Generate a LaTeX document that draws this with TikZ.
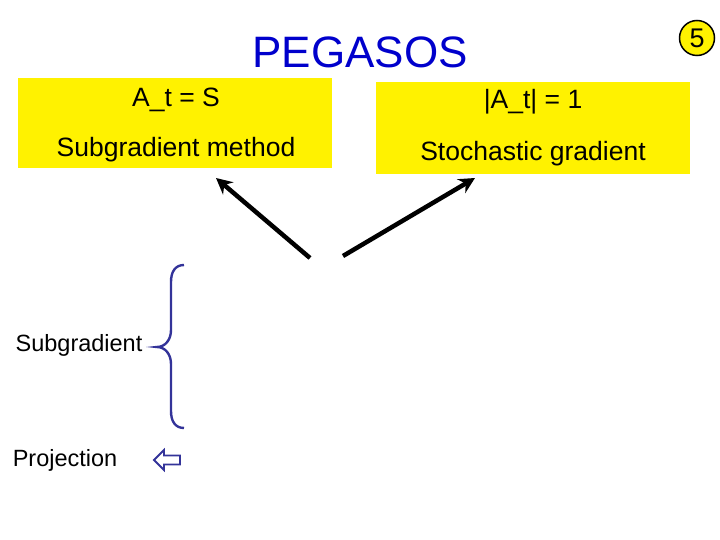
\documentclass[tikz,border=0pt]{standalone}
\usepackage{fontspec}
\setmainfont{Liberation Sans}
\usetikzlibrary{arrows.meta}
\begin{document}
\begin{tikzpicture}[x=1pt,y=-1pt,
  ybox/.style={fill=yellow,draw=none},
  lbl/.style={font=\fontsize{26.5}{30}\selectfont},
  side/.style={font=\fontsize{23.5}{26}\selectfont},
  arr/.style={line width=4.5pt,-{Stealth[length=16pt,width=16pt]}},
  bl/.style={draw={rgb,255:red,51;green,51;blue,153},line width=2.4pt}]
\useasboundingbox (0,0) rectangle (720,540);
\node (title) at (360,52) {\color[rgb]{0,0,0.8}\fontsize{44}{48}\selectfont PEGASOS};
\node (num) [circle,draw,fill=yellow,line width=1.5pt,minimum size=35pt,inner sep=0pt,font=\fontsize{27}{30}\selectfont] at (697,38) {5};
\node (lb) [ybox,minimum width=314pt,minimum height=90pt,inner sep=0pt] at (175,123) {};
\node (rb) [ybox,minimum width=314pt,minimum height=92pt,inner sep=0pt] at (533,128) {};
\node [lbl] (l1) at (176,100) {A\_t = S};
\node [lbl] (l2) at (176,150) {Subgradient method};
\node [lbl] (r1) at (533,102) {|A\_t| = 1};
\node [lbl] (r2) at (533,154) {Stochastic gradient};
\coordinate (a1) at (310,258); \coordinate (a1e) at (216,178);
\coordinate (a2) at (343,256); \coordinate (a2e) at (475,178);
\draw[arr] (a1) -- (a1e);
\draw[arr] (a2) -- (a2e);
\node [side] (sg) at (79,345) {Subgradient};
\node [side] (pj) at (65,460) {Projection};
\draw[bl] (184,265) .. controls (175,265) and (171,272) .. (171,282) -- (171,330)
  .. controls (171,340) and (165,347) .. (157,347)
  .. controls (165,347) and (171,354) .. (171,364) -- (171,411)
  .. controls (171,421) and (175,428) .. (184,428);
\draw[bl,line width=1.8pt,line join=miter] (154,460) -- (164,450) -- (164,455.5) -- (180,455.5) -- (180,464.5) -- (164,464.5) -- (164,470) -- cycle;
\end{tikzpicture}
\end{document}
